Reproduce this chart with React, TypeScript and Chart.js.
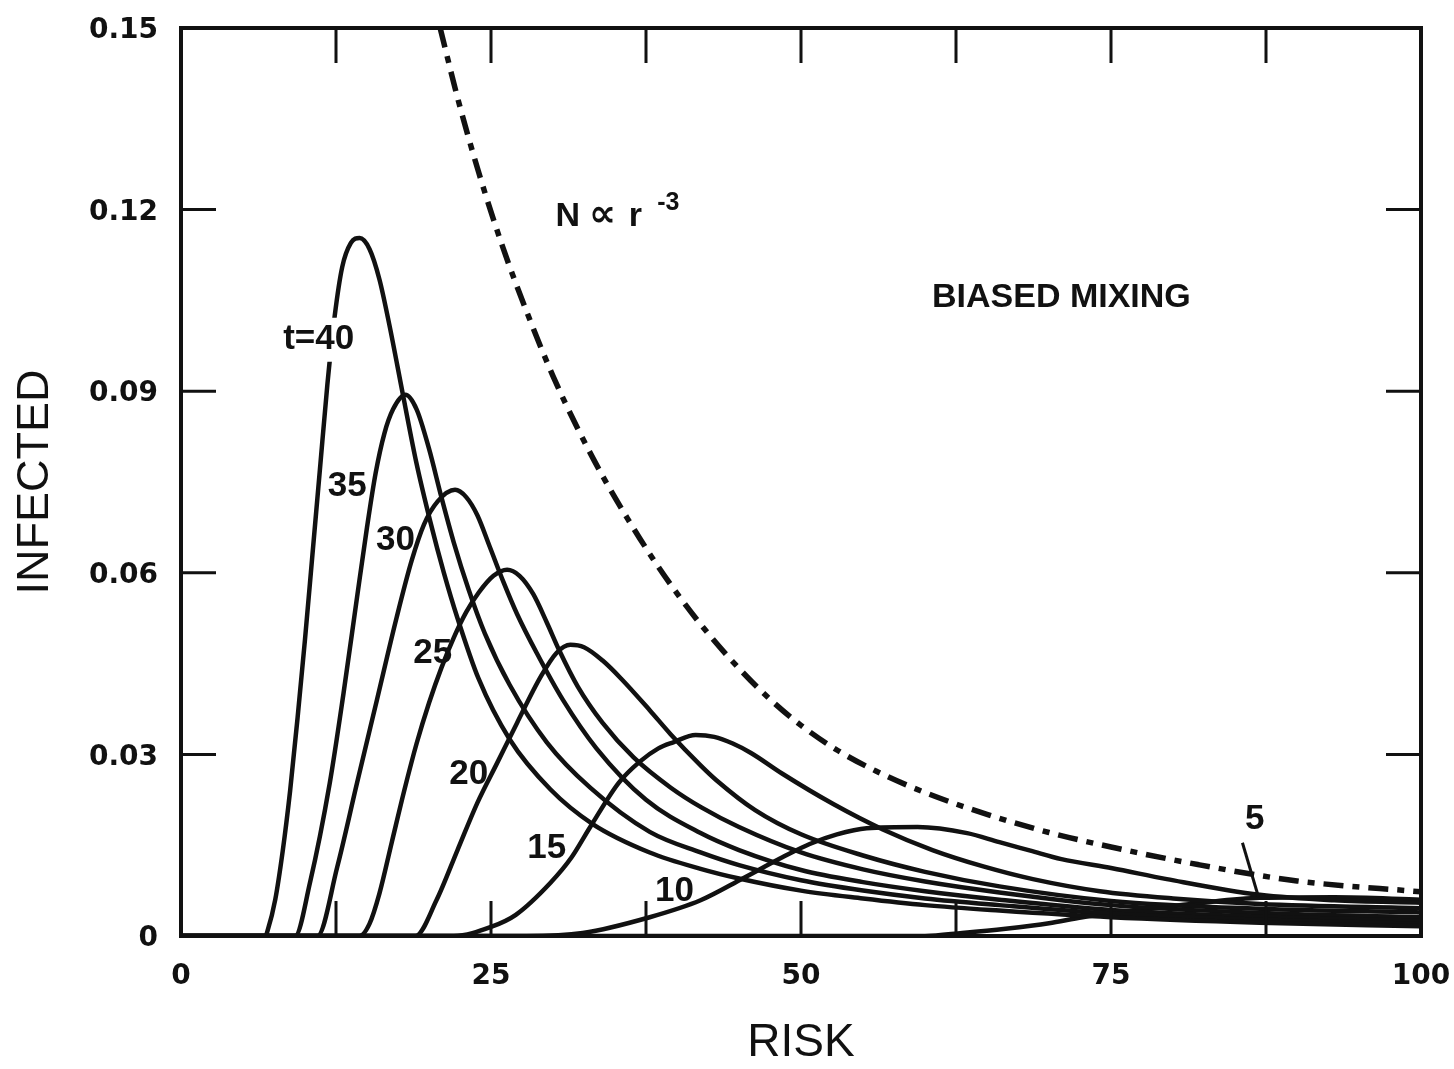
import React, { useEffect, useRef } from "react";
import { Chart, registerables } from "chart.js";

Chart.register(...registerables);

// Axis ticks
const xTickValues = [0, 25, 50, 75, 100];
const xInnerTicks = [12.5, 25, 37.5, 50, 62.5, 75, 87.5];
const yTickValues = [0, 0.03, 0.06, 0.09, 0.12, 0.15];
const yTickLabels = ["0", "0.03", "0.06", "0.09", "0.12", "0.15"];
const yInnerTicks = [0.03, 0.06, 0.09, 0.12];

// Curves (risk, infected)
const riskT40 = [0, 6.8, 7.0, 7.6, 8.2, 8.8, 9.4, 10.0, 10.6, 11.2, 11.8, 12.4, 13.0, 13.7, 14.4, 15.2, 16.0, 16.8, 17.9, 19.0, 20.1, 21.2, 22.3, 24.0, 26.5, 29.8, 33.2, 37.8, 41.9, 45, 50, 55, 60, 66, 75, 87, 100];
const infT40 = [0, 0, 0.001, 0.006, 0.014, 0.024, 0.036, 0.049, 0.063, 0.077, 0.091, 0.1025, 0.1105, 0.1145, 0.1153, 0.1135, 0.1085, 0.101, 0.0894, 0.078, 0.0685, 0.06, 0.0525, 0.0425, 0.0325, 0.0242, 0.0185, 0.0138, 0.0111, 0.0095, 0.0075, 0.0062, 0.0051, 0.0042, 0.0031, 0.0022, 0.0016];

const riskT35 = [0, 9.2, 10.4, 12.0, 13.1, 14.2, 15.0, 15.7, 16.4, 17.1, 18.1, 19.0, 20.0, 21.0, 22.0, 23.2, 24.5, 26.5, 29.5, 33, 37.8, 41.9, 45, 50, 55, 60, 66, 75, 87, 100];
const infT35 = [0, 0, 0.0088, 0.0253, 0.04, 0.056, 0.0675, 0.0765, 0.083, 0.087, 0.0894, 0.087, 0.0805, 0.0725, 0.065, 0.0572, 0.05, 0.0415, 0.032, 0.0245, 0.0172, 0.0138, 0.0117, 0.0092, 0.0075, 0.0062, 0.0051, 0.0037, 0.0027, 0.002];

const riskT30 = [0, 11.0, 12.6, 14.2, 15.8, 17.4, 18.6, 19.6, 20.7, 22.1, 23.0, 23.9, 24.9, 26.0, 27.1, 28.7, 30.8, 33.5, 37.5, 41.9, 45, 50, 55, 60, 66, 75, 87, 100];
const infT30 = [0, 0, 0.0114, 0.0253, 0.039, 0.0527, 0.062, 0.068, 0.0718, 0.0737, 0.0725, 0.0695, 0.0643, 0.0585, 0.0532, 0.0467, 0.039, 0.031, 0.0225, 0.017, 0.0142, 0.0109, 0.0089, 0.0074, 0.006, 0.0043, 0.0032, 0.0025];

const riskT25 = [0, 14.4, 15.2, 16.0, 17.0, 18.0, 19.0, 20.0, 21.0, 22.0, 23.0, 24.0, 25.2, 26.3, 27.3, 28.4, 29.5, 30.5, 32, 34, 36.5, 39.5, 42, 45, 50, 55, 60, 66, 75, 87, 100];
const infT25 = [0, 0, 0.002, 0.007, 0.0155, 0.024, 0.0318, 0.0385, 0.0443, 0.0493, 0.0535, 0.0567, 0.0595, 0.0605, 0.0595, 0.0565, 0.0518, 0.0472, 0.0412, 0.0352, 0.0295, 0.0245, 0.0212, 0.018, 0.0138, 0.011, 0.009, 0.0072, 0.0051, 0.0038, 0.0031];

const riskT20 = [0, 18.9, 20.6, 22.3, 23.9, 25.5, 27.1, 29.0, 30.3, 31.4, 32.5, 34, 35.5, 37.8, 39.5, 41.9, 43.2, 46.3, 50, 55, 60, 66, 75, 87, 100];
const infT20 = [0, 0, 0.0059, 0.0142, 0.022, 0.0286, 0.0352, 0.0428, 0.0468, 0.0481, 0.0477, 0.0455, 0.0425, 0.0373, 0.0333, 0.0282, 0.0257, 0.0208, 0.0168, 0.0133, 0.0106, 0.0082, 0.0058, 0.0045, 0.0039];

const riskT15 = [0, 22, 25, 27, 29.8, 31.5, 33, 35.3, 37, 38.5, 39.7, 41.5, 43, 44.5, 46, 48.5, 52.6, 56.6, 60.6, 64.7, 68.7, 74.1, 80, 87, 100];
const infT15 = [0, 0, 0.0015, 0.0035, 0.0088, 0.013, 0.018, 0.0253, 0.0288, 0.031, 0.032, 0.0332, 0.0329, 0.0318, 0.0302, 0.0268, 0.0218, 0.0176, 0.0142, 0.0115, 0.0094, 0.0074, 0.0062, 0.0053, 0.0046];

const riskT10 = [0, 27.9, 32.4, 37.8, 41.9, 45.3, 48.5, 50.7, 52.9, 55.3, 59.4, 63.4, 66, 68.5, 71, 75.1, 79.5, 87, 93, 100];
const infT10 = [0, 0, 0.0005, 0.0031, 0.0059, 0.0095, 0.013, 0.0152, 0.0168, 0.0178, 0.018, 0.017, 0.0155, 0.0141, 0.0127, 0.0112, 0.0094, 0.0068, 0.0059, 0.0055];

const riskT5 = [0, 60, 63, 66.5, 70, 72.7, 77, 82, 87, 93, 100];
const infT5 = [0, 0, 0.0005, 0.0012, 0.0021, 0.0031, 0.0042, 0.0054, 0.0063, 0.0064, 0.006];

// N ∝ r^-3 reference curve
const riskPower = [20.9, 22.3, 24, 26, 28, 30, 32, 34, 36, 38, 40, 42.5, 45, 47.5, 50, 53, 56, 60, 65, 70, 75, 82, 90, 100];
const infPower = [0.15, 0.1385, 0.1262, 0.1135, 0.1025, 0.0925, 0.0838, 0.076, 0.069, 0.0625, 0.0566, 0.05, 0.0442, 0.0391, 0.0348, 0.0306, 0.0273, 0.0237, 0.0201, 0.0171, 0.0147, 0.0118, 0.0091, 0.0073];

// Curve labels (text, risk, infected at text centre)
const curveLabelText = ["t=40", "35", "30", "25", "20", "15", "10", "5"];
const curveLabelRisk = [11.1, 13.4, 17.3, 20.3, 23.2, 29.5, 39.8, 86.6];
const curveLabelInf = [0.0985, 0.0742, 0.0653, 0.0467, 0.0267, 0.0145, 0.0074, 0.0192];
const curveLabelMasked = [true, false, false, false, false, false, false, false];
const pointerRisk = [85.6, 86.9];
const pointerInf = [0.0154, 0.0064];

// "N ∝ r^-3" annotation pieces (left edge risk) and "BIASED MIXING"
const formulaText = ["N", "\u221D", "r", "-3"];
const formulaRisk = [30.2, 32.9, 36.1, 38.4];
const formulaInf = [0.1189, 0.1189, 0.1189, 0.1211];
const noteText = "BIASED MIXING";
const noteRisk = 71.0;
const noteInf = 0.1054;

const INK = "#111111";

function pts(xs: number[], ys: number[]) {
  return xs.map((x, i) => ({ x, y: ys[i] }));
}

const decorPlugin = {
  id: "decor",
  afterDatasetsDraw(chart: any) {
    const { ctx, chartArea: a, scales } = chart;
    const x = scales.x;
    const y = scales.y;
    ctx.save();
    ctx.strokeStyle = INK;
    ctx.fillStyle = INK;
    // inward ticks
    const tl = 35;
    ctx.lineWidth = 3;
    ctx.beginPath();
    for (const v of xInnerTicks) {
      const px = x.getPixelForValue(v);
      ctx.moveTo(px, a.top);
      ctx.lineTo(px, a.top + tl);
      ctx.moveTo(px, a.bottom);
      ctx.lineTo(px, a.bottom - tl);
    }
    for (const v of yInnerTicks) {
      const py = y.getPixelForValue(v);
      ctx.moveTo(a.left, py);
      ctx.lineTo(a.left + tl, py);
      ctx.moveTo(a.right, py);
      ctx.lineTo(a.right - tl, py);
    }
    ctx.stroke();
    // frame
    ctx.lineWidth = 4;
    ctx.strokeRect(a.left, a.top, a.right - a.left, a.bottom - a.top);

    // curve labels
    ctx.font = "bold 35px 'Liberation Sans', Arial, sans-serif";
    ctx.textAlign = "center";
    ctx.textBaseline = "middle";
    curveLabelText.forEach((t, i) => {
      const px = x.getPixelForValue(curveLabelRisk[i]);
      const py = y.getPixelForValue(curveLabelInf[i]);
      if (curveLabelMasked[i]) {
        const w = ctx.measureText(t).width;
        ctx.fillStyle = "#ffffff";
        ctx.fillRect(px - w / 2 - 2, py - 22, w + 4, 44);
        ctx.fillStyle = INK;
      }
      ctx.fillText(t, px, py);
    });
    // pointer for "5"
    ctx.lineWidth = 3;
    ctx.beginPath();
    ctx.moveTo(x.getPixelForValue(pointerRisk[0]), y.getPixelForValue(pointerInf[0]));
    ctx.lineTo(x.getPixelForValue(pointerRisk[1]), y.getPixelForValue(pointerInf[1]));
    ctx.stroke();

    // N ∝ r^-3
    ctx.textAlign = "left";
    const fFonts = [
      "bold 34px 'Liberation Sans', Arial, sans-serif",
      "bold 38px 'DejaVu Sans', sans-serif",
      "bold 34px 'Liberation Sans', Arial, sans-serif",
      "bold 25px 'Liberation Sans', Arial, sans-serif",
    ];
    formulaText.forEach((t, i) => {
      ctx.font = fFonts[i];
      ctx.fillText(t, x.getPixelForValue(formulaRisk[i]), y.getPixelForValue(formulaInf[i]));
    });

    // BIASED MIXING
    ctx.textAlign = "center";
    ctx.font = "bold 34px 'Liberation Sans', Arial, sans-serif";
    ctx.fillText(noteText, x.getPixelForValue(noteRisk), y.getPixelForValue(noteInf));
    ctx.restore();
  },
};

export default function App() {
  const ref = useRef<HTMLCanvasElement | null>(null);

  useEffect(() => {
    if (!ref.current) return;
    const solid = (xs: number[], ys: number[], label: string) => ({
      label,
      data: pts(xs, ys),
      borderColor: INK,
      borderWidth: 4.5,
      pointRadius: 0,
      fill: false,
      cubicInterpolationMode: "monotone" as const,
    });
    const tickFont = { family: "'DejaVu Sans', sans-serif", size: 28, weight: "bold" as const };
    const chart = new Chart(ref.current, {
      type: "line",
      data: {
        datasets: [
          solid(riskT40, infT40, "t=40"),
          solid(riskT35, infT35, "t=35"),
          solid(riskT30, infT30, "t=30"),
          solid(riskT25, infT25, "t=25"),
          solid(riskT20, infT20, "t=20"),
          solid(riskT15, infT15, "t=15"),
          solid(riskT10, infT10, "t=10"),
          solid(riskT5, infT5, "t=5"),
          {
            label: "N \u221D r^-3",
            data: pts(riskPower, infPower),
            borderColor: INK,
            borderWidth: 5.5,
            borderDash: [20, 9, 7, 9],
            pointRadius: 0,
            fill: false,
            cubicInterpolationMode: "monotone" as const,
          },
        ],
      },
      options: {
        responsive: false,
        animation: false,
        devicePixelRatio: 1,
        layout: { padding: { left: 0, right: 33, top: 28, bottom: 0 } },
        plugins: {
          legend: { display: false },
          tooltip: { enabled: false },
        },
        scales: {
          x: {
            type: "linear",
            min: 0,
            max: 100,
            grid: { display: false, drawTicks: false },
            border: { display: false },
            afterBuildTicks: (s: any) => {
              s.ticks = xTickValues.map((v) => ({ value: v }));
            },
            afterFit: (s: any) => {
              s.height = 133;
              s.paddingLeft = 0;
              s.paddingRight = 0;
            },
            ticks: {
              autoSkip: false,
              maxRotation: 0,
              padding: 24,
              color: INK,
              font: tickFont,
              callback: (v: any) => String(v),
            },
            title: {
              display: true,
              text: "RISK",
              color: INK,
              font: { family: "'Liberation Sans', Arial, sans-serif", size: 46, lineHeight: 1 },
              padding: { top: 0, bottom: 3 },
            },
          },
          y: {
            type: "linear",
            min: 0,
            max: 0.15,
            grid: { display: false, drawTicks: false },
            border: { display: false },
            afterBuildTicks: (s: any) => {
              s.ticks = yTickValues.map((v) => ({ value: v }));
            },
            afterFit: (s: any) => {
              s.width = 181;
              s.paddingTop = 0;
              s.paddingBottom = 0;
            },
            ticks: {
              padding: 23,
              labelOffset: 3,
              color: INK,
              font: tickFont,
              callback: (_v: any, i: number) => yTickLabels[i],
            },
            title: {
              display: true,
              text: "INFECTED",
              color: INK,
              font: { family: "'Liberation Sans', Arial, sans-serif", size: 45, lineHeight: 1 },
              padding: { top: 13, bottom: 0 },
            },
          },
        },
      },
      plugins: [decorPlugin],
    });
    return () => chart.destroy();
  }, []);

  return (
    <div style={{ position: "fixed", left: 0, top: 0, width: 1454, height: 1069, background: "#fff" }}>
      <canvas ref={ref} width={1454} height={1069} style={{ display: "block" }} />
    </div>
  );
}
